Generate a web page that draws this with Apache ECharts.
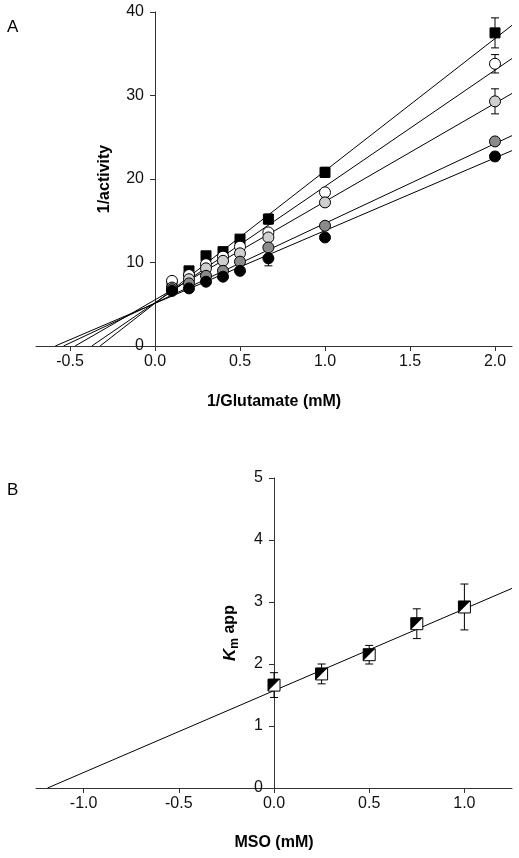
<!DOCTYPE html>
<html><head><meta charset="utf-8">
<script src="https://cdn.jsdelivr.net/npm/echarts@6/dist/echarts.min.js"></script>
<style>html,body{margin:0;padding:0;background:#fff}#c{width:519px;height:858px}</style>
</head><body><div id="c"></div>
<script>
// ---------- Panel A data ----------
const glutInv = [0.1, 0.2, 0.3, 0.4, 0.5, 0.667, 1.0, 2.0];
const blackSquare    = [7.2, 9.0, 10.8, 11.3, 12.8, 15.2, 20.8, 37.5];
const blackSquareErr = [0.3, 0.3, 0.5, 0.3, 0.3, 0.6, 0.6, 1.8];
const whiteCircle    = [7.8, 8.5, 9.8, 10.7, 11.9, 13.6, 18.4, 33.8];
const whiteCircleErr = [0.2, 0.2, 0.2, 0.2, 0.2, 0.3, 0.3, 1.1];
const lightCircle    = [7.0, 8.0, 9.3, 10.2, 11.1, 13.0, 17.2, 29.3];
const lightCircleErr = [0.2, 0.2, 0.3, 0.2, 0.2, 0.3, 0.5, 1.5];
const midCircle      = [6.8, 7.5, 8.4, 9.0, 10.1, 11.8, 14.4, 24.5];
const midCircleErr   = [0.2, 0.2, 0.2, 0.2, 0.2, 0.3, 0.3, 0.3];
const blackCircle    = [6.6, 6.9, 7.7, 8.3, 9.0, 10.5, 13.0, 22.7];
const blackCircleErr = [0.2, 0.2, 0.2, 0.2, 0.2, 0.9, 0.3, 0.5];
// fitted lines (slope, intercept)
const slopesA     = [15.85, 13.93, 11.77, 9.55, 8.71];
const interceptsA = [5.12, 5.18, 5.53, 5.14, 5.11];
const xTicksA = [-0.5, 0, 0.5, 1.0, 1.5, 2.0];
const yTicksA = [0, 10, 20, 30, 40];

// ---------- Panel B data ----------
const msoX  = [0, 0.25, 0.5, 0.75, 1.0];
const kmApp = [1.66, 1.84, 2.15, 2.65, 2.92];
const kmErr = [0.20, 0.16, 0.15, 0.24, 0.37];
const slopeB = 1.32, interceptB = 1.57;
const xTicksB = [-1.0, -0.5, 0, 0.5, 1.0];
const yTicksB = [0, 1, 2, 3, 4, 5];

const FONT = 'Liberation Sans, Arial, sans-serif';
const AX = '#333';
const W = 519;
const gridA = {left: 36, right: 7, top: 12, height: 334};
const gridB = {left: 36, right: 7, top: 478, height: 310};
const xMinA = -0.7, xMaxA = 2.1, xMinB = -1.25, xMaxB = 1.25;
// place the y axes on x = 0 (offset from the grid's left edge)
function zeroOffset(g, mn, mx) {
  const w = W - g.left - g.right;
  return -(-mn) / (mx - mn) * w;
}

function errItem(params, api) {
  const x = api.value(0), lo = api.value(1), hi = api.value(2);
  const a = api.coord([x, lo]), b = api.coord([x, hi]);
  const w = 4;
  const st = {stroke: '#000', lineWidth: 1};
  return {type: 'group', children: [
    {type: 'line', shape: {x1: a[0], y1: a[1], x2: b[0], y2: b[1]}, style: st},
    {type: 'line', shape: {x1: a[0]-w, y1: a[1], x2: a[0]+w, y2: a[1]}, style: st},
    {type: 'line', shape: {x1: b[0]-w, y1: b[1], x2: b[0]+w, y2: b[1]}, style: st}
  ]};
}

function xAxisCfg(gi, min, max, ticks, name, gap) {
  return {
    type: 'value', gridIndex: gi, min: min, max: max,
    name: name, nameLocation: 'middle', nameGap: gap,
    nameTextStyle: {fontFamily: FONT, fontWeight: 'bold', fontSize: 16, color: '#000'},
    axisLine: {show: true, onZero: false, lineStyle: {color: AX, width: 1}},
    axisTick: {show: true, length: 5, customValues: ticks, lineStyle: {color: AX}},
    axisLabel: {customValues: ticks, margin: 8, fontFamily: FONT, fontSize: 16, color: '#111',
      formatter: v => Number(v).toFixed(1)},
    splitLine: {show: false}
  };
}
function yAxisCfg(gi, min, max, ticks, name, gap, nts, off) {
  return {
    type: 'value', gridIndex: gi, min: min, max: max, offset: off,
    name: name, nameLocation: 'middle', nameGap: gap, nameRotate: 90,
    nameTextStyle: nts,
    axisLine: {show: true, onZero: false, lineStyle: {color: AX, width: 1}},
    axisTick: {show: true, length: 5, customValues: ticks, lineStyle: {color: AX}},
    axisLabel: {customValues: ticks, margin: 11, fontFamily: FONT, fontSize: 16, color: '#111',
      formatter: v => String(v)},
    splitLine: {show: false}
  };
}

const seriesA = [
  {vals: blackSquare, err: blackSquareErr, symbol: 'rect', fill: '#000'},
  {vals: whiteCircle, err: whiteCircleErr, symbol: 'circle', fill: '#fff'},
  {vals: lightCircle, err: lightCircleErr, symbol: 'circle', fill: '#cfcfcf'},
  {vals: midCircle, err: midCircleErr, symbol: 'circle', fill: '#8a8a8a'},
  {vals: blackCircle, err: blackCircleErr, symbol: 'circle', fill: '#000'}
];

const series = [];
slopesA.forEach((s, i) => {
  const b = interceptsA[i];
  series.push({type: 'line', xAxisIndex: 0, yAxisIndex: 0, symbol: 'none', silent: true, z: 1,
    lineStyle: {color: '#000', width: 1},
    data: [[-b / s, 0], [xMaxA, b + s * xMaxA]]});
});
seriesA.forEach((sr) => {
  series.push({type: 'custom', xAxisIndex: 0, yAxisIndex: 0, z: 2, renderItem: errItem,
    encode: {x: 0, y: [1, 2]},
    data: glutInv.map((x, j) => [x, sr.vals[j] - sr.err[j], sr.vals[j] + sr.err[j]])});
});
seriesA.forEach((sr) => {
  series.push({type: 'scatter', xAxisIndex: 0, yAxisIndex: 0, z: 3, symbol: sr.symbol,
    symbolSize: sr.symbol === 'rect' ? 10 : 11,
    itemStyle: {color: sr.fill, borderColor: '#000', borderWidth: 1, opacity: 1},
    data: glutInv.map((x, j) => [x, sr.vals[j]])});
});
series.push({type: 'line', xAxisIndex: 1, yAxisIndex: 1, symbol: 'none', silent: true, z: 1,
  lineStyle: {color: '#000', width: 1},
  data: [[-interceptB / slopeB, 0], [xMaxB, interceptB + slopeB * xMaxB]]});
series.push({type: 'custom', xAxisIndex: 1, yAxisIndex: 1, z: 2, renderItem: errItem,
  encode: {x: 0, y: [1, 2]},
  data: msoX.map((x, j) => [x, kmApp[j] - kmErr[j], kmApp[j] + kmErr[j]])});
series.push({type: 'scatter', xAxisIndex: 1, yAxisIndex: 1, z: 3, symbol: 'rect', symbolSize: 12,
  itemStyle: {color: '#fff', borderColor: '#000', borderWidth: 1, opacity: 1},
  data: msoX.map((x, j) => [x, kmApp[j]])});
series.push({type: 'scatter', xAxisIndex: 1, yAxisIndex: 1, z: 4, symbol: 'path://M0,0L10,0L0,10Z',
  symbolSize: 12, itemStyle: {color: '#000', opacity: 1},
  data: msoX.map((x, j) => [x, kmApp[j]])});

const chart = echarts.init(document.getElementById('c'), null, {renderer: 'canvas'});
chart.setOption({
  backgroundColor: '#fff',
  animation: false,
  grid: [
    Object.assign({containLabel: false, outerBoundsMode: 'none'}, gridA),
    Object.assign({containLabel: false, outerBoundsMode: 'none'}, gridB)
  ],
  xAxis: [
    xAxisCfg(0, xMinA, xMaxA, xTicksA, '1/Glutamate (mM)', 48),
    xAxisCfg(1, xMinB, xMaxB, xTicksB, 'MSO (mM)', 47)
  ],
  yAxis: [
    yAxisCfg(0, 0, 40, yTicksA, '1/activity', 42,
      {fontFamily: FONT, fontWeight: 'bold', fontSize: 16, color: '#000'},
      zeroOffset(gridA, xMinA, xMaxA)),
    yAxisCfg(1, 0, 5, yTicksB, '{k|K}{m|m}{a| app}', 33,
      {fontFamily: FONT, fontWeight: 'bold', fontSize: 16, color: '#000',
       rich: {
         k: {fontFamily: FONT, fontStyle: 'italic', fontWeight: 'bold', fontSize: 17, color: '#000', lineHeight: 22, verticalAlign: 'middle'},
         m: {fontFamily: FONT, fontWeight: 'bold', fontSize: 12, color: '#000', lineHeight: 22, verticalAlign: 'bottom'},
         a: {fontFamily: FONT, fontWeight: 'bold', fontSize: 16, color: '#000', lineHeight: 22, verticalAlign: 'middle'}
       }},
      zeroOffset(gridB, xMinB, xMaxB))
  ],
  graphic: [
    {type: 'text', left: 7, top: 19, style: {text: 'A', font: '17px ' + FONT, fill: '#000'}},
    {type: 'text', left: 7, top: 482, style: {text: 'B', font: '17px ' + FONT, fill: '#000'}}
  ],
  series: series
});
</script>
</body></html>
